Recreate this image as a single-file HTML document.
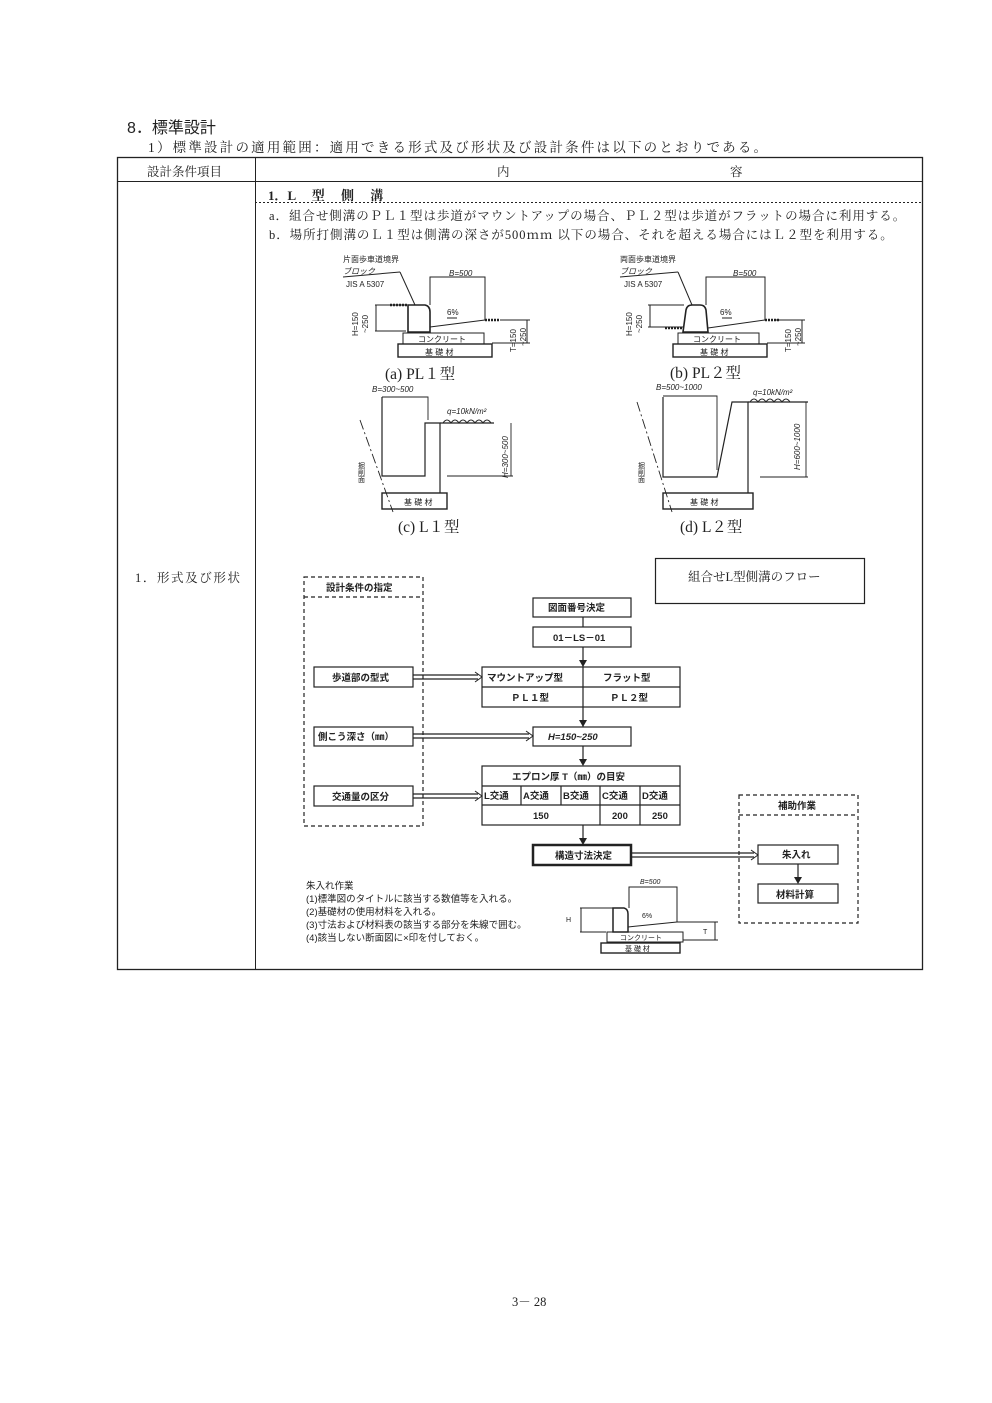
<!DOCTYPE html>
<html><head><meta charset="utf-8">
<style>
html,body{margin:0;padding:0;background:#fff}
body{width:992px;height:1403px;position:relative;overflow:hidden;font-family:"Liberation Serif","Noto Serif CJK SC","Noto Sans CJK JP",serif;color:#222}
.t{position:absolute;white-space:nowrap}
svg{position:absolute;left:0;top:0}
svg text{font-family:"Liberation Sans","Noto Sans CJK JP",sans-serif;fill:#222}
</style></head><body>
<div class="t" style="left:127px;top:114px;font-size:16px;font-family:'Liberation Sans','Noto Sans CJK JP',sans-serif;">8．標準設計</div>
<div class="t" style="left:148px;top:136px;font-size:13.5px;letter-spacing:2.2px;">1）標準設計の適用範囲：適用できる形式及び形状及び設計条件は以下のとおりである。</div>
<div class="t" style="left:147px;top:162px;font-size:12.5px;">設計条件項目</div>
<div class="t" style="left:497px;top:162px;font-size:12.5px;">内</div>
<div class="t" style="left:730px;top:162px;font-size:12.5px;">容</div>
<div class="t" style="left:268px;top:185px;font-size:13px;font-weight:bold;">1．L　 型　 側　 溝</div>
<div class="t" style="left:269px;top:206px;font-size:12.5px;letter-spacing:0.95px;">a．組合せ側溝のＰＬ１型は歩道がマウントアップの場合、ＰＬ２型は歩道がフラットの場合に利用する。</div>
<div class="t" style="left:269px;top:225px;font-size:12.5px;letter-spacing:0.95px;">b．場所打側溝のＬ１型は側溝の深さが500ｍｍ 以下の場合、それを超える場合にはＬ２型を利用する。</div>
<div class="t" style="left:135px;top:568px;font-size:12.5px;letter-spacing:1.6px;">1．形式及び形状</div>
<div class="t" style="left:512px;top:1292px;font-size:12.5px;">3－ 28</div>

<svg width="992" height="1403" viewBox="0 0 992 1403">
<g fill="none" stroke="#222">
<rect x="117.5" y="157.5" width="805" height="812" stroke-width="1.3"/>
<line x1="117" y1="181.5" x2="922" y2="181.5"/>
<line x1="255.5" y1="157" x2="255.5" y2="969"/>
<line x1="255" y1="202.5" x2="922" y2="202.5" stroke-dasharray="2,2"/>
</g>

<!-- (a) -->
<g fill="none" stroke="#222" stroke-width="1">
<path d="M408,332 L408,305 L425,305 Q430,306 430,312 L430,332 Z" stroke-width="1.6"/>
<rect x="403" y="333" width="81" height="11"/>
<rect x="398" y="344" width="94" height="13" stroke-width="1.4"/>
<line x1="430" y1="327" x2="485" y2="320"/>
<polyline points="430,305 430,277 485,277 485,320"/>
<line x1="375" y1="305" x2="406" y2="305"/><line x1="375" y1="331" x2="406" y2="331"/><line x1="376" y1="305" x2="376" y2="331"/>
<line x1="390" y1="305" x2="408" y2="305" stroke-width="2.5" stroke-dasharray="2,1"/>
<line x1="485" y1="320" x2="500" y2="320" stroke-width="2.5" stroke-dasharray="2,1"/>
<line x1="400" y1="272" x2="415" y2="305"/>
<line x1="343" y1="277" x2="400" y2="272"/>
<line x1="500" y1="320" x2="530" y2="320"/><line x1="492" y1="343" x2="530" y2="343"/><line x1="527" y1="320" x2="527" y2="343"/>
<line x1="447" y1="318" x2="457" y2="318"/>
</g>
<g font-size="8">
<text x="343" y="262">片面歩車道境界</text><text x="343" y="274" font-style="italic">ブロック</text><text x="346" y="287">JIS A 5307</text>
<text x="449" y="276" font-style="italic">B=500</text><text x="447" y="315">6%</text>
<text x="418" y="342">コンクリート</text><text x="425" y="355">基 礎 材</text>
<text transform="translate(358,336) rotate(-90)">H=150</text><text transform="translate(368,333) rotate(-90)">~250</text>
<text transform="translate(516,352) rotate(-90)">T=150</text><text transform="translate(526,346) rotate(-90)">~250</text>
</g>
<text x="385" y="379" font-size="15.5" style="font-family:'Liberation Serif','Noto Serif CJK SC',serif">(a)  PL１型</text>

<!-- (b) -->
<g fill="none" stroke="#222" stroke-width="1">
<path d="M683,332 L686,310 Q687,305 692,305 L700,305 Q705,305 706,310 L708,332 Z" stroke-width="1.6"/>
<rect x="678" y="333" width="81" height="11"/>
<rect x="673" y="344" width="94" height="13" stroke-width="1.4"/>
<line x1="708" y1="328" x2="765" y2="320"/>
<polyline points="706,305 706,277 765,277 765,320"/>
<line x1="648" y1="305" x2="684" y2="305"/><line x1="648" y1="327" x2="683" y2="327"/><line x1="650" y1="305" x2="650" y2="327"/>
<line x1="665" y1="328" x2="683" y2="328" stroke-width="2.5" stroke-dasharray="2,1"/>
<line x1="765" y1="320" x2="780" y2="320" stroke-width="2.5" stroke-dasharray="2,1"/>
<line x1="678" y1="272" x2="692" y2="305"/>
<line x1="620" y1="277" x2="678" y2="272"/>
<line x1="775" y1="320" x2="805" y2="320"/><line x1="767" y1="343" x2="805" y2="343"/><line x1="802" y1="320" x2="802" y2="343"/>
<line x1="722" y1="318" x2="732" y2="318"/>
</g>
<g font-size="8">
<text x="620" y="262">両面歩車道境界</text><text x="620" y="274" font-style="italic">ブロック</text><text x="624" y="287">JIS A 5307</text>
<text x="733" y="276" font-style="italic">B=500</text><text x="720" y="315">6%</text>
<text x="693" y="342">コンクリート</text><text x="700" y="355">基 礎 材</text>
<text transform="translate(632,336) rotate(-90)">H=150</text><text transform="translate(642,333) rotate(-90)">~250</text>
<text transform="translate(791,352) rotate(-90)">T=150</text><text transform="translate(801,346) rotate(-90)">~250</text>
</g>
<text x="670" y="378" font-size="15.5" style="font-family:'Liberation Serif','Noto Serif CJK SC',serif">(b)  PL２型</text>

<!-- (c) -->
<g fill="none" stroke="#222" stroke-width="1.2">
<polyline points="382,397 382,476 425,476 425,423 440,423 440,493"/>
<polyline points="382,397 428,397 428,420" stroke-width="0.9"/>
<rect x="382" y="493" width="65" height="16" stroke-width="1.4"/>
<line x1="440" y1="423" x2="494" y2="423"/>
<line x1="447" y1="476" x2="513" y2="476" stroke-width="0.9"/>
<line x1="511" y1="423" x2="511" y2="476" stroke-width="0.9"/>
<line x1="360" y1="420" x2="393" y2="512" stroke-dasharray="10,3,2,3" stroke-width="0.9"/>
<path d="M443,423 q4,-6 8,0 q4,-6 8,0 q4,-6 8,0 q4,-6 8,0 q4,-6 8,0 q4,-6 8,0" stroke-width="0.9"/>
</g>
<g font-size="8">
<text x="372" y="392" font-style="italic">B=300~500</text>
<text x="447" y="414" font-style="italic">q=10kN/m²</text>
<text x="404" y="505">基 礎 材</text>
<text transform="translate(508,478) rotate(-90)" font-style="italic">H=300~500</text>
<text x="361" y="462" writing-mode="tb" font-size="7">掘削面</text>
</g>
<text x="398" y="532" font-size="15.5" style="font-family:'Liberation Serif','Noto Serif CJK SC',serif">(c)  L１型</text>

<!-- (d) -->
<g fill="none" stroke="#222" stroke-width="1.2">
<polyline points="663,397 663,477 717,477 732,402 748,402 748,493"/>
<polyline points="663,396 717,396 717,470" stroke-width="0.9"/>
<rect x="663" y="493" width="90" height="16" stroke-width="1.4"/>
<line x1="748" y1="402" x2="808" y2="402"/>
<line x1="760" y1="477" x2="808" y2="477" stroke-width="0.9"/>
<line x1="806" y1="402" x2="806" y2="477" stroke-width="0.9"/>
<line x1="637" y1="402" x2="672" y2="512" stroke-dasharray="10,3,2,3" stroke-width="0.9"/>
<path d="M750,402 q4,-6 8,0 q4,-6 8,0 q4,-6 8,0 q4,-6 8,0 q4,-6 8,0" stroke-width="0.9"/>
</g>
<g font-size="8">
<text x="656" y="390" font-style="italic">B=500~1000</text>
<text x="753" y="395" font-style="italic">q=10kN/m²</text>
<text x="690" y="505">基 礎 材</text>
<text transform="translate(800,470) rotate(-90)" font-style="italic">H=600~1000</text>
<text x="641" y="462" writing-mode="tb" font-size="7">掘削面</text>
</g>
<text x="680" y="532" font-size="15.5" style="font-family:'Liberation Serif','Noto Serif CJK SC',serif">(d)  L２型</text>

<!-- flow title box -->
<rect x="655.5" y="558.5" width="209" height="45" fill="none" stroke="#222" stroke-width="1.2"/>
<text x="688" y="581" font-size="12.5" style="font-family:'Liberation Serif','Noto Serif CJK SC',serif">組合せL型側溝のフロー</text>

<!-- flowchart -->
<g fill="none" stroke="#222" stroke-width="1.2">
<rect x="304" y="577" width="119" height="249" stroke-dasharray="4,3"/>
<line x1="304" y1="597" x2="423" y2="597" stroke-dasharray="4,3"/>
<rect x="739" y="795" width="119" height="128" stroke-dasharray="4,3"/>
<line x1="739" y1="815" x2="858" y2="815" stroke-dasharray="4,3"/>
<rect x="533" y="598" width="98" height="19"/>
<rect x="533" y="627" width="98" height="20"/>
<rect x="482" y="667" width="198" height="40"/><line x1="482" y1="687" x2="680" y2="687"/>
<rect x="314" y="667" width="99" height="20"/>
<rect x="533" y="727" width="98" height="19"/>
<rect x="314" y="727" width="99" height="19"/>
<rect x="482" y="766" width="198" height="59"/>
<line x1="482" y1="786" x2="680" y2="786"/><line x1="482" y1="805" x2="680" y2="805"/>
<line x1="521" y1="786" x2="521" y2="805"/><line x1="561" y1="786" x2="561" y2="805"/>
<line x1="600" y1="786" x2="600" y2="825"/><line x1="640" y1="786" x2="640" y2="825"/>
<rect x="314" y="786" width="99" height="20"/>
<rect x="533" y="845" width="98" height="20" stroke-width="2.5"/>
<rect x="758" y="845" width="80" height="19"/>
<rect x="758" y="884" width="80" height="19"/>
<line x1="583" y1="617" x2="583" y2="627"/>
<line x1="583" y1="647" x2="583" y2="727"/>
<line x1="583" y1="746" x2="583" y2="762"/>
<line x1="583" y1="825" x2="583" y2="841"/>
<line x1="798" y1="864" x2="798" y2="880"/>
<path d="M413,675 H478 M413,679 H478 M413,734 H529 M413,738 H529 M413,794 H478 M413,798 H478 M631,853 H754 M631,857 H754"/>
</g>
<g fill="#222">
<polygon points="579,660 587,660 583,667"/>
<polygon points="579,720 587,720 583,727"/>
<polygon points="579,759 587,759 583,766"/>
<polygon points="579,838 587,838 583,845"/>
<polygon points="794,877 802,877 798,884"/>
</g>
<g fill="none" stroke="#222" stroke-width="1">
<polyline points="475,672 482,677 475,682"/>
<polyline points="526,731 533,736 526,741"/>
<polyline points="475,791 482,796 475,801"/>
<polyline points="751,850 758,855 751,860"/>
</g>
<g font-size="9.5" font-weight="bold">
<text x="326" y="591">設計条件の指定</text>
<text x="548" y="611">図面番号決定</text>
<text x="553" y="641">01－LS－01</text>
<text x="487" y="681">マウントアップ型</text><text x="603" y="681">フラット型</text>
<text x="511" y="701">ＰＬ１型</text><text x="610" y="701">ＰＬ２型</text>
<text x="332" y="681">歩道部の型式</text>
<text x="548" y="740" font-style="italic">H=150~250</text>
<text x="318" y="740">側こう深さ（㎜）</text>
<text x="512" y="780">エプロン厚 T（㎜）の目安</text>
<text x="484" y="799">L交通</text><text x="523" y="799">A交通</text><text x="563" y="799">B交通</text><text x="602" y="799">C交通</text><text x="642" y="799">D交通</text>
<text x="533" y="819">150</text><text x="612" y="819">200</text><text x="652" y="819">250</text>
<text x="332" y="800">交通量の区分</text>
<text x="778" y="809">補助作業</text>
<text x="555" y="859">構造寸法決定</text>
<text x="782" y="858">朱入れ</text>
<text x="776" y="898">材料計算</text>
</g>
<g font-size="9.5">
<text x="306" y="889">朱入れ作業</text>
<text x="306" y="902">(1)標準図のタイトルに該当する数値等を入れる。</text>
<text x="306" y="915">(2)基礎材の使用材料を入れる。</text>
<text x="306" y="928">(3)寸法および材料表の該当する部分を朱線で囲む。</text>
<text x="306" y="941">(4)該当しない断面図に×印を付しておく。</text>
</g>
<!-- small drawing -->
<g fill="none" stroke="#222" stroke-width="1">
<path d="M613,932 L613,908 L624,908 Q628,909 628,914 L628,932 Z" stroke-width="1.5"/>
<rect x="607" y="932" width="76" height="10"/>
<rect x="601" y="943" width="79" height="10" stroke-width="1.4"/>
<polyline points="629,908 629,887 677,887 677,922"/>
<line x1="628" y1="927" x2="677" y2="922"/>
<line x1="580" y1="908" x2="613" y2="908"/><line x1="580" y1="932" x2="606" y2="932"/><line x1="581" y1="908" x2="581" y2="932"/>
<line x1="677" y1="922" x2="718" y2="922"/><line x1="683" y1="940" x2="718" y2="940"/><line x1="715" y1="922" x2="715" y2="940"/>
</g>
<g font-size="7">
<text x="640" y="884" font-style="italic">B=500</text><text x="642" y="918">6%</text>
<text x="620" y="940">コンクリート</text><text x="625" y="951">基 礎 材</text>
<text x="703" y="934">T</text><text x="566" y="922">H</text>
</g>
</svg>
</body></html>
